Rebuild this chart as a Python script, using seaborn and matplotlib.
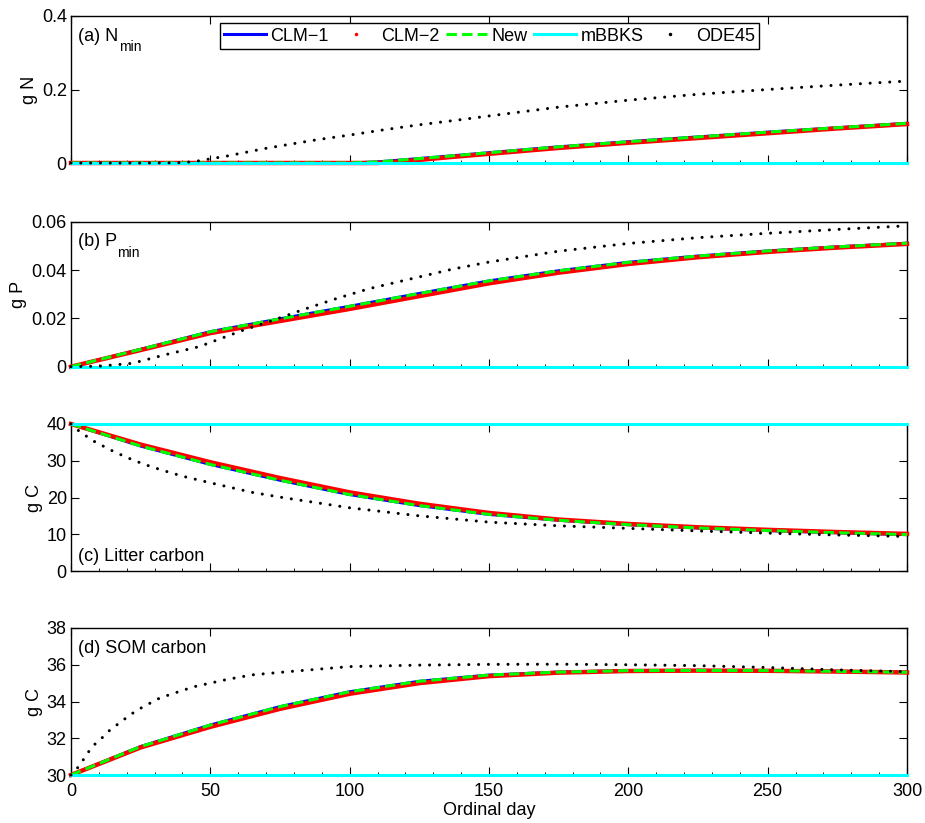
import numpy as np
import pandas as pd
import matplotlib
matplotlib.use("Agg")
import matplotlib.pyplot as plt
import seaborn as sns
from matplotlib.lines import Line2D
from matplotlib.ticker import MultipleLocator

# ---------------- data ----------------
series_names = ["CLM\u22121", "CLM\u22122", "New", "mBBKS", "ODE45"]

# (a) mineral N
a_days = [0, 100, 110, 120, 136, 150, 175, 200, 225, 250, 275, 300]
a_clm1 = [0, 0, 0.003, 0.009, 0.019, 0.028, 0.044, 0.058, 0.071, 0.084, 0.096, 0.108]
a_clm2 = [0, 0, 0.000, 0.005, 0.016, 0.025, 0.041, 0.055, 0.068, 0.081, 0.094, 0.106]
a_new = [0, 0, 0.003, 0.009, 0.019, 0.028, 0.044, 0.058, 0.071, 0.084, 0.096, 0.108]
a_mbbks = [0, 0, 0, 0, 0, 0, 0, 0, 0, 0, 0, 0]
a_ode_days = [0, 25, 38, 44, 49, 56, 62, 70, 77, 88, 100, 112, 124, 142, 150, 175, 200, 225, 250, 275, 300]
a_ode = [0, 0, 0.0005, 0.0035, 0.010, 0.019, 0.028, 0.040, 0.049, 0.063, 0.076, 0.090, 0.103,
         0.120, 0.128, 0.152, 0.171, 0.187, 0.200, 0.212, 0.223]

# (b) mineral P
b_days = [0, 25, 50, 75, 100, 125, 150, 175, 200, 225, 250, 275, 300]
b_clm1 = [0, 0.0072, 0.0145, 0.0198, 0.0250, 0.0303, 0.0355, 0.0397, 0.0432, 0.0458, 0.0479, 0.0496, 0.0511]
b_clm2 = [0, 0.0069, 0.0139, 0.0189, 0.0239, 0.0292, 0.0345, 0.0389, 0.0425, 0.0453, 0.0475, 0.0493, 0.0508]
b_new = [0, 0.0072, 0.0145, 0.0198, 0.0250, 0.0303, 0.0355, 0.0397, 0.0432, 0.0458, 0.0479, 0.0496, 0.0511]
b_mbbks = [0, 0, 0, 0, 0, 0, 0, 0, 0, 0, 0, 0, 0]
b_ode_days = [0, 10, 22, 34, 46, 62, 71, 83, 95, 107, 117, 137, 150, 175, 200, 225, 250, 275, 300]
b_ode = [0, 0.0002, 0.0014, 0.0050, 0.0083, 0.0152, 0.0186, 0.0235, 0.0281, 0.0323, 0.0350,
         0.0404, 0.0433, 0.0478, 0.0510, 0.0534, 0.0552, 0.0568, 0.0583]

# (c) litter carbon
c_days = [0, 25, 50, 75, 100, 125, 150, 175, 200, 225, 250, 275, 300]
c_clm1 = [40, 34.0, 29.0, 24.7, 20.8, 17.8, 15.4, 13.8, 12.6, 11.7, 11.0, 10.4, 9.9]
c_clm2 = [40, 34.4, 29.6, 25.3, 21.4, 18.3, 15.8, 14.0, 12.8, 11.9, 11.2, 10.6, 10.1]
c_new = [40, 34.0, 29.0, 24.7, 20.8, 17.8, 15.4, 13.8, 12.6, 11.7, 11.0, 10.4, 9.9]
c_mbbks = [40, 40, 40, 40, 40, 40, 40, 40, 40, 40, 40, 40, 40]
c_ode_days = [0, 3, 8, 14, 20, 26, 32, 40, 50, 65, 75, 100, 125, 150, 175, 200, 225, 250, 275, 300]
c_ode = [40, 38.0, 35.4, 33.0, 30.9, 29.1, 27.6, 25.8, 24.0, 21.4, 20.1, 17.2, 15.0, 13.3,
         12.3, 11.6, 10.9, 10.3, 9.8, 9.4]

# (d) SOM carbon
d_days = [0, 25, 50, 75, 100, 125, 150, 175, 200, 225, 250, 275, 300]
d_clm1 = [30, 31.55, 32.72, 33.72, 34.53, 35.10, 35.44, 35.60, 35.68, 35.69, 35.68, 35.64, 35.59]
d_clm2 = [30, 31.50, 32.62, 33.60, 34.42, 35.00, 35.38, 35.57, 35.66, 35.68, 35.67, 35.63, 35.58]
d_new = [30, 31.55, 32.72, 33.72, 34.53, 35.10, 35.44, 35.60, 35.68, 35.69, 35.68, 35.64, 35.59]
d_mbbks = [30, 30, 30, 30, 30, 30, 30, 30, 30, 30, 30, 30, 30]
d_ode_days = [0, 3, 6, 8, 11, 14, 18, 21, 24, 27, 32, 38, 44, 50, 56, 65, 80, 100, 125, 150,
              175, 200, 225, 250, 275, 300]
d_ode = [30, 30.5, 31.2, 31.6, 32.0, 32.45, 32.9, 33.25, 33.55, 33.8, 34.2, 34.5, 34.8, 35.0,
         35.2, 35.45, 35.65, 35.9, 35.98, 36.02, 36.03, 36.0, 35.95, 35.85, 35.72, 35.62]

panel_labels = ["(a) N", "(b) P", "(c) Litter carbon", "(d) SOM carbon"]
y_labels = ["g N", "g P", "g C", "g C"]
y_ticks = [[0, 0.2, 0.4], [0, 0.02, 0.04, 0.06], [0, 10, 20, 30, 40], [30, 32, 34, 36, 38]]
y_ticklabels = [["0", "0.2", "0.4"], ["0", "0.02", "0.04", "0.06"],
                ["0", "10", "20", "30", "40"], ["30", "32", "34", "36", "38"]]
x_ticks = [0, 50, 100, 150, 200, 250, 300]
x_label = "Ordinal day"

# ---------------- style ----------------
plt.rcParams["font.family"] = ["Liberation Sans", "DejaVu Sans"]
plt.rcParams["axes.linewidth"] = 1.0

col = {"CLM\u22121": "#0000ff", "CLM\u22122": "#ff0000", "New": "#00ff00",
       "mBBKS": "#00ffff", "ODE45": "#000000"}

panels = [
    (a_days, a_clm1, a_clm2, a_new, a_mbbks, a_ode_days, a_ode),
    (b_days, b_clm1, b_clm2, b_new, b_mbbks, b_ode_days, b_ode),
    (c_days, c_clm1, c_clm2, c_new, c_mbbks, c_ode_days, c_ode),
    (d_days, d_clm1, d_clm2, d_new, d_mbbks, d_ode_days, d_ode),
]

W, H = 925, 823
fig = plt.figure(figsize=(W / 100, H / 100), dpi=100)
x0, x1 = 71, 907
tops = [16, 221.7, 424, 628]
bots = [163, 366.7, 571, 775]

FS = 13
axes = []
for i, (days, c1, c2, nw, mb, odays, ode) in enumerate(panels):
    ax = fig.add_axes([x0 / W, 1 - bots[i] / H, (x1 - x0) / W, (bots[i] - tops[i]) / H])
    axes.append(ax)
    for sp in ax.spines.values():
        sp.set_zorder(1.5)
        sp.set_linewidth(1.0)
    kw = dict(ax=ax, legend=False, clip_on=False)
    sns.lineplot(x=days, y=c1, color=col["CLM\u22121"], linewidth=2.2, zorder=2, **kw)
    sns.lineplot(x=days, y=c2, color=col["CLM\u22122"], linewidth=3.2, zorder=2.1, **kw)
    sns.lineplot(x=days, y=nw, color=col["New"], linewidth=2.2, linestyle=(0, (3.4, 1.7)),
                 zorder=2.2, **kw)
    sns.lineplot(x=days, y=mb, color=col["mBBKS"], linewidth=2.2, zorder=2.3, **kw)
    sns.lineplot(x=odays, y=ode, color=col["ODE45"], linewidth=2.2, linestyle=(0, (0.01, 3.2)),
                 dash_capstyle="round", zorder=2.4, **kw)

    ax.set_xlim(0, 300)
    ax.set_ylim(y_ticks[i][0], y_ticks[i][-1])
    ax.set_xticks(x_ticks)
    ax.xaxis.set_minor_locator(MultipleLocator(10))
    ax.set_yticks(y_ticks[i])
    ax.set_yticklabels(y_ticklabels[i])
    ax.tick_params(which="major", direction="in", length=6, width=0.8, top=True, right=True,
                   labelsize=FS, pad=3)
    ax.tick_params(axis="x", which="major", pad=6)
    ax.tick_params(which="minor", direction="in", length=2.5, width=0.6, top=False, right=False)
    ax.tick_params(axis="y", which="minor", left=False)
    if i < 3:
        ax.set_xticklabels([])
    else:
        ax.set_xlabel(x_label, fontsize=FS, labelpad=1)
    ax.set_ylabel(y_labels[i], fontsize=FS, labelpad=3)

    # panel label
    if i == 2:
        ax.text(0.008, 0.07, panel_labels[i], transform=ax.transAxes, fontsize=FS,
                ha="left", va="baseline")
    else:
        ypos = 0.83
        t = ax.text(0.008, ypos, panel_labels[i], transform=ax.transAxes, fontsize=FS,
                    ha="left", va="baseline")
        if i < 2:
            ax.annotate("min", xy=(1, 0), xycoords=t, xytext=(0.5, -4.5),
                        textcoords="offset points", fontsize=10, ha="left", va="baseline")

# legend
handles = [
    Line2D([], [], color=col["CLM\u22121"], lw=2.2),
    Line2D([], [], color=col["CLM\u22122"], lw=0, marker=".", markersize=3),
    Line2D([], [], color=col["New"], lw=2.2, linestyle=(0, (3.4, 1.7))),
    Line2D([], [], color=col["mBBKS"], lw=2.2),
    Line2D([], [], color=col["ODE45"], lw=0, marker=".", markersize=3),
]
leg = axes[0].legend(handles, series_names, loc="upper center", bbox_to_anchor=(0.5006, 0.952),
                     ncol=5, frameon=True, fancybox=False, edgecolor="black", framealpha=1,
                     fontsize=FS, handlelength=2.3, handletextpad=0.25, columnspacing=0.35,
                     borderpad=0.25, borderaxespad=0)
leg.get_frame().set_linewidth(1.0)

fig.savefig("out.png", dpi=100)
